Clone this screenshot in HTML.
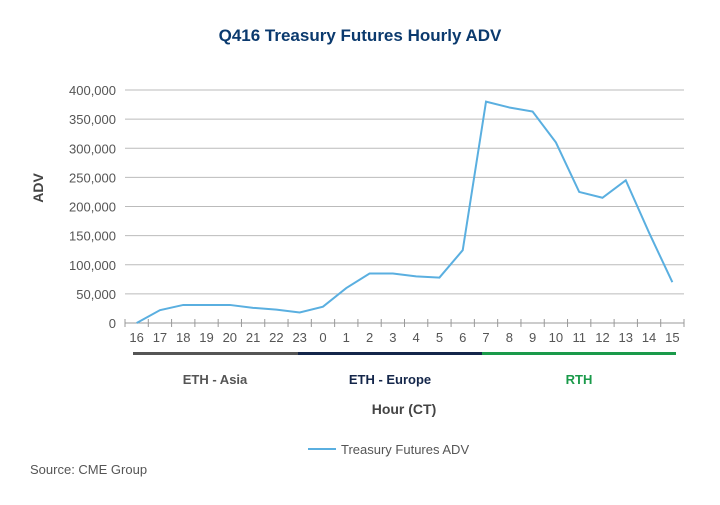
<!DOCTYPE html>
<html><head><meta charset="utf-8"><style>
body{margin:0;background:#fff;font-family:"Liberation Sans",sans-serif}
svg text{font-family:"Liberation Sans",sans-serif}
</style></head><body>
<svg width="720" height="500" viewBox="0 0 720 500">
<text x="360" y="41" text-anchor="middle" font-size="17" font-weight="bold" fill="#0b3a6e">Q416 Treasury Futures Hourly ADV</text>
<g id="grid"></g><g id="yt"></g><g id="xt"></g>
<text transform="translate(43,188) rotate(-90)" text-anchor="middle" font-size="14" font-weight="bold" fill="#444">ADV</text>
<polyline id="line" fill="none" stroke="#5aafe0" stroke-width="2"/>
<rect x="133" y="352" width="165" height="3" fill="#555"/>
<rect x="298" y="352" width="184" height="3" fill="#14264a"/>
<rect x="482" y="352" width="194" height="3" fill="#1a9a4a"/>
<text x="215" y="384" text-anchor="middle" font-size="13" font-weight="bold" fill="#555">ETH - Asia</text>
<text x="390" y="384" text-anchor="middle" font-size="13" font-weight="bold" fill="#14264a">ETH - Europe</text>
<text x="579" y="384" text-anchor="middle" font-size="13" font-weight="bold" fill="#1a9a4a">RTH</text>
<text x="404" y="414" text-anchor="middle" font-size="14" font-weight="bold" fill="#444">Hour (CT)</text>
<line x1="308" y1="449" x2="336" y2="449" stroke="#5aafe0" stroke-width="2"/>
<text x="341" y="454" font-size="13" fill="#555">Treasury Futures ADV</text>
<text x="30" y="474" font-size="13" fill="#555">Source: CME Group</text>
</svg>
<script>
const categories=["16","17","18","19","20","21","22","23","0","1","2","3","4","5","6","7","8","9","10","11","12","13","14","15"];
const values=[0,22000,31000,31000,31000,26000,23000,18000,28000,60000,85000,85000,80000,78000,125000,380000,370000,363000,310000,225000,215000,245000,155000,70000];
const yTicks=[0,50000,100000,150000,200000,250000,300000,350000,400000];
const ns="http://www.w3.org/2000/svg";
const X0=125,X1=684,Y0=323,Y1=90,YMAX=400000;
const bw=(X1-X0)/categories.length;
const xs=i=>X0+bw*(i+0.5);
const ys=v=>Y0-(v/YMAX)*(Y0-Y1);
function mk(t,a,p){const e=document.createElementNS(ns,t);for(const k in a)e.setAttribute(k,a[k]);p.appendChild(e);return e;}
const grid=document.getElementById('grid'),yt=document.getElementById('yt'),xt=document.getElementById('xt');
yTicks.forEach(v=>{
 if(v>0){const l=mk('line',{x1:X0,x2:X1,y1:ys(v),y2:ys(v),stroke:'#bbb','stroke-width':1},grid);
 
 }
 const t=mk('text',{x:116,y:ys(v)+5,'text-anchor':'end','font-size':13,fill:'#555'},yt);
 t.textContent=v.toLocaleString('en-US');
 
 
});
const ax=mk('line',{x1:X0,x2:X1,y1:Y0,y2:Y0,stroke:'#999','stroke-width':1},xt);


for(let i=0;i<=categories.length;i++){const x=X0+bw*i;mk('line',{x1:x,x2:x,y1:Y0-4,y2:Y0+4,stroke:'#999'},xt);}
categories.forEach((c,i)=>{
 const t=mk('text',{x:xs(i),y:Y0+19,'text-anchor':'middle','font-size':13,fill:'#555'},xt);
 t.textContent=c;
 
 
});
document.getElementById('line').setAttribute('points',values.map((v,i)=>xs(i)+','+ys(v)).join(' '));
</script>
</body></html>
